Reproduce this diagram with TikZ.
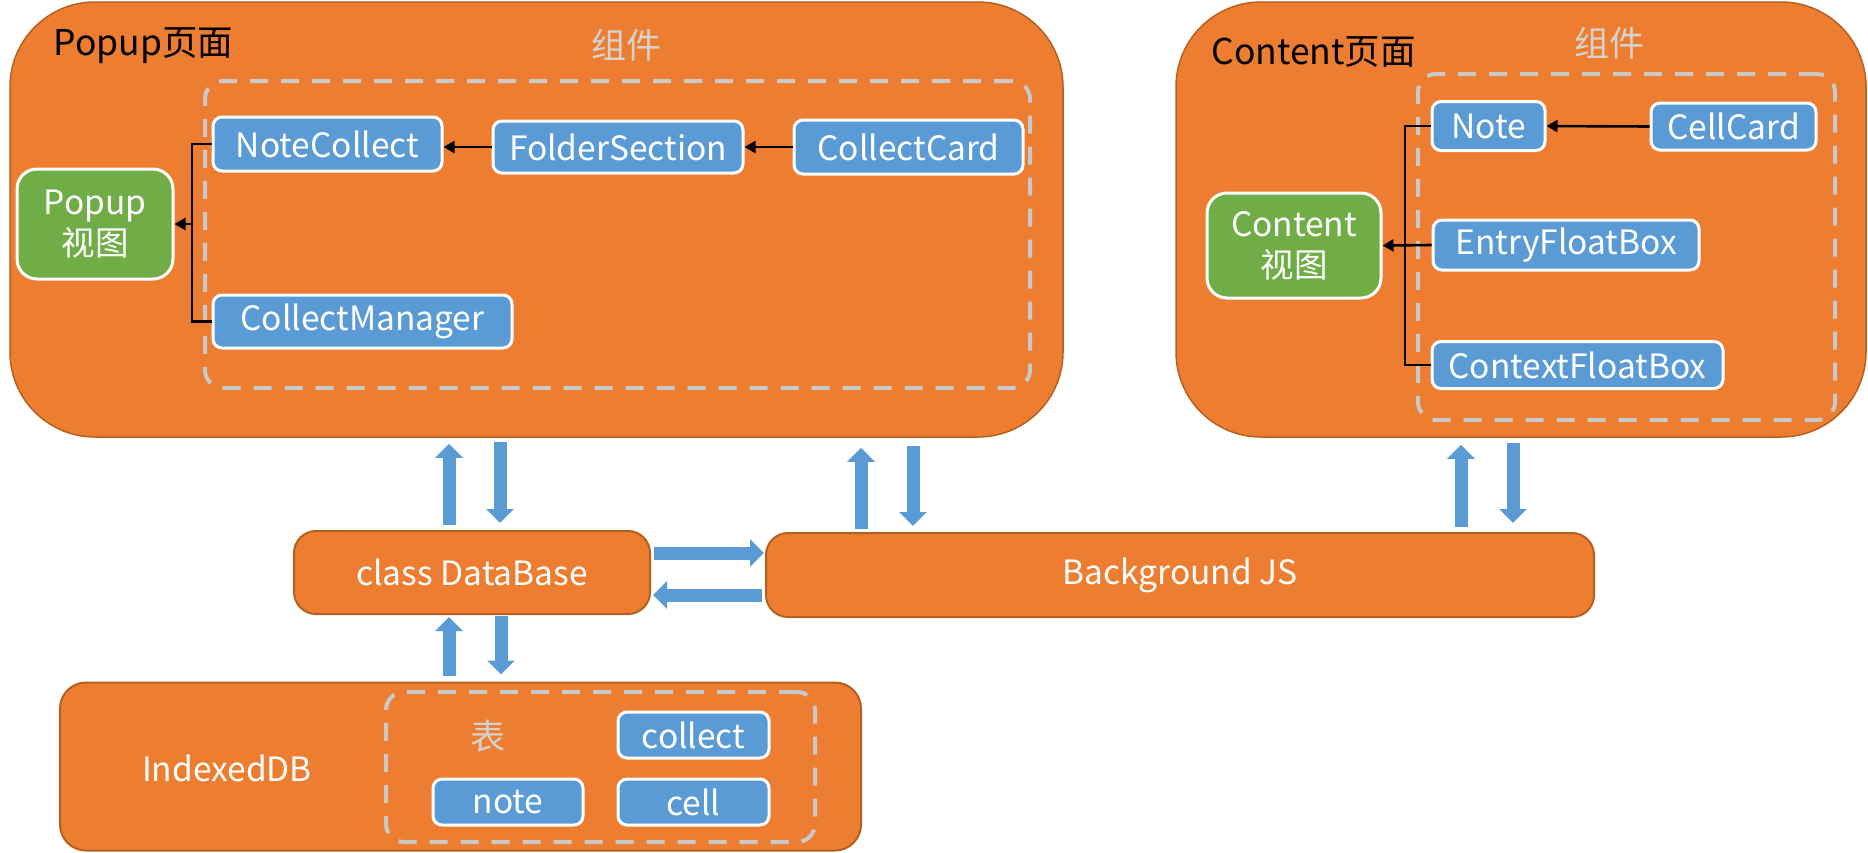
\documentclass[tikz,border=0pt]{standalone}
\usepackage{fontspec}
\setmainfont{Noto Sans CJK SC}
\usetikzlibrary{arrows.meta,calc}
\definecolor{org}{HTML}{ED7D31}
\definecolor{orgd}{HTML}{B5601F}
\definecolor{blu}{HTML}{5B9BD5}
\definecolor{grn}{HTML}{70AD47}
\definecolor{dgray}{HTML}{C9C9C9}
\definecolor{lgtxt}{HTML}{D6D2CE}
\begin{document}
\begin{tikzpicture}[x=1pt,y=-1pt, font=\fontsize{33.5}{41}\selectfont,
 bigbox/.style={draw=orgd, line width=1.5pt, fill=org, rounded corners=85pt, inner sep=0pt},
 orgbox/.style={draw=orgd, line width=2pt, fill=org, rounded corners=22pt, text=white, inner sep=0pt},
 bluebox/.style={draw=white, line width=3pt, fill=blu, rounded corners=9pt, text=white, inner sep=0pt},
 greenbox/.style={draw=white, line width=3pt, fill=grn, rounded corners=20pt, text=white, inner sep=0pt, align=center},
 dashbox/.style={draw=dgray, line width=4pt, dash pattern=on 18pt off 13pt, rounded corners=18pt, inner sep=0pt},
 conn/.style={draw=black, line width=2.6pt},
 tip/.style={-{Triangle[length=11pt,width=12pt]}},
 fat/.style={draw=blu, line width=13pt, -{Triangle[length=14pt,width=27pt]}},
 ]
\useasboundingbox (0,0) rectangle (1868,852);
% big containers
\node[bigbox, minimum width=1053pt, minimum height=435pt] (popup) at (536.5,219.5) {};
\node[bigbox, minimum width=690pt, minimum height=435pt] (content) at (1521,219.5) {};
\node[anchor=west, font=\fontsize{35.5}{40}\selectfont] (ptitle) at (50,46) {Popup页面};
\node[anchor=west, font=\fontsize{35.5}{40}\selectfont] (ctitle) at (1208,52) {Content页面};
\node[text=lgtxt, font=\fontsize{35}{40}\selectfont] (pzj) at (626,45) {组件};
\node[text=lgtxt, font=\fontsize{35}{40}\selectfont] (czj) at (1609,43) {组件};
\node[dashbox, minimum width=825pt, minimum height=307pt] (pdash) at (617.5,234.5) {};
\node[dashbox, minimum width=417pt, minimum height=346pt] (cdash) at (1626.5,247) {};
% connectors inside
\coordinate (pb) at (192,224);
\coordinate (cb) at (1405,245);
\node[greenbox, minimum width=156pt, minimum height=110pt] (pv) at (95,224) {Popup\\视图};
\node[greenbox, minimum width=174pt, minimum height=105pt] (cv) at (1294,245.5) {Content\\视图};
\node[bluebox, minimum width=229pt, minimum height=54pt] (nc) at (327.5,144) {NoteCollect};
\node[bluebox, minimum width=250pt, minimum height=52pt] (fs) at (618,147) {FolderSection};
\node[bluebox, minimum width=229pt, minimum height=54pt] (cc) at (908.5,147) {CollectCard};
\node[bluebox, minimum width=299pt, minimum height=53pt] (cm) at (362.5,321.5) {CollectManager};
\node[bluebox, minimum width=113pt, minimum height=49pt] (note) at (1488.5,126) {Note};
\node[bluebox, minimum width=165pt, minimum height=47pt] (cellc) at (1733.5,126.5) {CellCard};
\node[bluebox, minimum width=266pt, minimum height=50pt] (efb) at (1566,245) {EntryFloatBox};
\node[bluebox, minimum width=291pt, minimum height=47pt] (xfb) at (1577.5,365) {ContextFloatBox};
\draw[conn, tip] (fs.west) -- (fs.west -| nc.east);
\draw[conn, tip] (cc.west) -- (fs.east);
\draw[conn] (nc.west) -- (nc.west -| pb) |- (cm.west);
\draw[conn, tip] (pb) -- (pv.east);
\draw[conn] (note.west) -- (note.west -| cb) |- (xfb.west);
\draw[conn, tip] (efb.west) -- (cv.east);
\draw[conn, tip] (cellc.west) -- (note.east);
% lower boxes
\node[orgbox, minimum width=356pt, minimum height=83pt] (db) at (472,572.5) {class DataBase};
\node[orgbox, minimum width=828pt, minimum height=84pt] (bg) at (1180,575) {Background JS};
\node[orgbox, rounded corners=26pt, minimum width=801pt, minimum height=168pt] (idb) at (460.5,766.5) {};
\node[text=white] (idbl) at (227,768) {IndexedDB};
\node[dashbox, minimum width=429pt, minimum height=150pt] (idash) at (600.5,767) {};
\node[text=lgtxt, font=\fontsize{35}{40}\selectfont] (biao) at (488,736) {表};
\node[bluebox, minimum width=151pt, minimum height=46pt] (tcollect) at (693.5,735) {collect};
\node[bluebox, minimum width=150pt, minimum height=46pt] (tnote) at (508,802) {note};
\node[bluebox, minimum width=151pt, minimum height=46pt] (tcell) at (693.5,802) {cell};
% fat arrows
\draw[fat, shorten <=5pt, shorten >=6pt] ([xshift=-23pt]db.north) -- ([xshift=-23pt]db.north |- popup.south);
\draw[fat, shorten <=4pt, shorten >=7pt] ([xshift=28pt]db.north |- popup.south) -- ([xshift=28pt]db.north);
\draw[fat, shorten <=3pt, shorten >=10pt] ([xshift=96pt]bg.north west) -- ([xshift=96pt]bg.north west |- popup.south);
\draw[fat, shorten <=8pt, shorten >=6pt] ([xshift=148pt]bg.north west |- popup.south) -- ([xshift=148pt]bg.north west);
\draw[fat, shorten <=5pt, shorten >=7pt] ([xshift=696pt]bg.north west) -- ([xshift=696pt]bg.north west |- content.south);
\draw[fat, shorten <=5pt, shorten >=9pt] ([xshift=748pt]bg.north west |- content.south) -- ([xshift=748pt]bg.north west);
\draw[fat, shorten <=3pt, shorten >=1pt] ([yshift=19.5pt]db.east) -- ([yshift=19.5pt]db.east -| bg.west);
\draw[fat, shorten <=3pt, shorten >=2pt] ([yshift=-22.5pt]db.east -| bg.west) -- ([yshift=-22.5pt]db.east);
\draw[fat, shorten <=6pt, shorten >=2pt] ([xshift=-23pt]db.south |- idb.north) -- ([xshift=-23pt]db.south);
\draw[fat, shorten <=1pt, shorten >=7pt] ([xshift=29pt]db.south) -- ([xshift=29pt]db.south |- idb.north);
\end{tikzpicture}
\end{document}
